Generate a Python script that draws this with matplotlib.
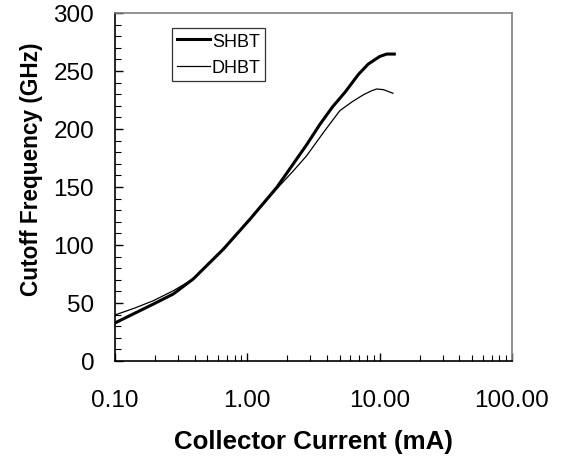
import matplotlib
matplotlib.use("Agg")
import matplotlib.pyplot as plt
from matplotlib.ticker import LogLocator, NullFormatter, MultipleLocator

plt.rcParams['font.family'] = ['Liberation Sans', 'DejaVu Sans']

# Data (collector current in mA, cutoff frequency in GHz)
shbt_current = [0.10, 0.14, 0.195, 0.276, 0.39, 0.66, 1.05, 1.67, 2.81, 3.55, 4.4, 5.5, 6.9, 8.2, 10.0, 11.3, 12.9]
shbt_freq = [32.8, 41.0, 49.1, 57.8, 70.7, 96.5, 122.4, 149.7, 186.5, 204.3, 219.0, 232.0, 247.0, 256.0, 262.5, 264.6, 264.6]

dhbt_current = [0.10, 0.14, 0.195, 0.276, 0.39, 0.66, 1.05, 1.67, 2.23, 2.81, 3.76, 5.0, 6.2, 7.53, 8.7, 9.5, 10.7, 12.6]
dhbt_freq = [39.7, 45.5, 52.0, 60.6, 70.7, 96.0, 122.0, 148.5, 164.0, 177.0, 197.0, 215.8, 223.5, 229.5, 233.0, 234.5, 233.9, 230.8]

x_ticks = [0.1, 1, 10, 100]
x_tick_labels = ["0.10", "1.00", "10.00", "100.00"]
y_ticks = [0, 50, 100, 150, 200, 250, 300]

fig = plt.figure(figsize=(5.64, 4.60), dpi=100)
ax = fig.add_axes([115/564, 1-362/460, (512-115)/564, (362-14)/460])

ax.plot(shbt_current, shbt_freq, color='black', lw=2.2, label='SHBT')
ax.plot(dhbt_current, dhbt_freq, color='black', lw=0.9, label='DHBT')

ax.set_xscale('log')
ax.set_xlim(0.1, 100)
ax.set_ylim(0, 300)
ax.set_xticks(x_ticks)
ax.set_xticklabels(x_tick_labels)
ax.xaxis.set_minor_locator(LogLocator(base=10, subs=range(2, 10)))
ax.xaxis.set_minor_formatter(NullFormatter())
ax.set_yticks(y_ticks)
ax.yaxis.set_minor_locator(MultipleLocator(10))

ax.tick_params(axis='both', which='major', direction='in', length=5.5, width=1, labelsize=17.5, color='black')
ax.tick_params(axis='both', which='minor', direction='in', length=4, width=0.8, color='black')
ax.tick_params(axis='x', which='major', pad=20)
ax.tick_params(axis='y', which='major', pad=15)

for s in ['left', 'bottom']:
    ax.spines[s].set_color('black')
    ax.spines[s].set_linewidth(1.2)
for s in ['top', 'right']:
    ax.spines[s].set_color('#808080')
    ax.spines[s].set_linewidth(1.2)

ax.set_xlabel('Collector Current (mA)', fontsize=18.6, fontweight='bold', labelpad=13)
ax.set_ylabel('Cutoff Frequency (GHz)', fontsize=16.3, fontweight='bold')
ax.yaxis.set_label_coords((43-115)/397, (362-169)/348)

leg = ax.legend(loc='upper left', bbox_to_anchor=((172-115)/397, 1-(29-14)/348),
                frameon=True, fancybox=False, fontsize=13, handlelength=1.85,
                handletextpad=0.1, borderpad=0.25, labelspacing=0.55, borderaxespad=0)
leg.get_frame().set_edgecolor('black')
leg.get_frame().set_linewidth(0.9)

fig.savefig('out.png', dpi=100)
